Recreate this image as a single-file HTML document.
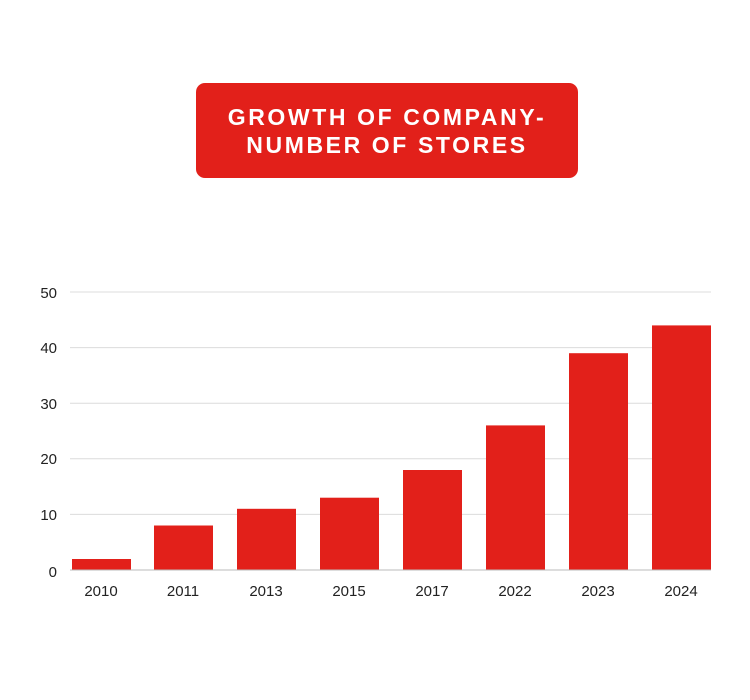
<!DOCTYPE html>
<html><head><meta charset="utf-8"><style>
body{margin:0;background:#fff;}
svg{display:block;font-family:"Liberation Sans",sans-serif;}
</style></head><body>
<svg width="750" height="700" viewBox="0 0 750 700">
<rect x="0" y="0" width="750" height="700" fill="#fff"/>
<rect x="196" y="83" width="382" height="95" rx="9" fill="#e2201a"/>
<text x="387" y="125" text-anchor="middle" fill="#fff" font-weight="bold" font-size="23" letter-spacing="2.6">GROWTH OF COMPANY-</text>
<text x="387" y="153" text-anchor="middle" fill="#fff" font-weight="bold" font-size="23" letter-spacing="2.6">NUMBER OF STORES</text>
<g stroke="#dcdcdc" stroke-width="1">
<line x1="70" x2="711" y1="292" y2="292"/>
<line x1="70" x2="711" y1="347.6" y2="347.6"/>
<line x1="70" x2="711" y1="403.2" y2="403.2"/>
<line x1="70" x2="711" y1="458.8" y2="458.8"/>
<line x1="70" x2="711" y1="514.4" y2="514.4"/>
</g>
<g font-size="15" fill="#222" text-anchor="end">
<text x="57" y="298">50</text>
<text x="57" y="353">40</text>
<text x="57" y="409">30</text>
<text x="57" y="464">20</text>
<text x="57" y="520">10</text>
<text x="57" y="577">0</text>
</g>
<g fill="#e2201a">
<rect x="72" y="559" width="59" height="11"/>
<rect x="154" y="525.5" width="59" height="44.5"/>
<rect x="237" y="508.8" width="59" height="61.2"/>
<rect x="320" y="497.7" width="59" height="72.3"/>
<rect x="403" y="470" width="59" height="100"/>
<rect x="486" y="425.4" width="59" height="144.6"/>
<rect x="569" y="353.2" width="59" height="216.8"/>
<rect x="652" y="325.4" width="59" height="244.6"/>
</g>
<line x1="70" x2="711" y1="570" y2="570" stroke="#bbb" stroke-width="1"/>
<g font-size="15" fill="#222" text-anchor="middle">
<text x="101" y="596">2010</text>
<text x="183" y="596">2011</text>
<text x="266" y="596">2013</text>
<text x="349" y="596">2015</text>
<text x="432" y="596">2017</text>
<text x="515" y="596">2022</text>
<text x="598" y="596">2023</text>
<text x="681" y="596">2024</text>
</g>
</svg>
</body></html>
